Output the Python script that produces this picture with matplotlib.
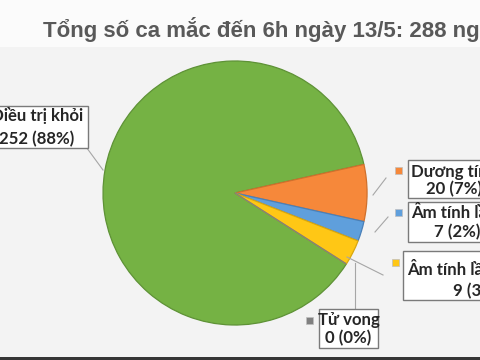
import matplotlib
matplotlib.use("Agg")
import matplotlib.pyplot as plt
from matplotlib.patches import Rectangle

# ---- data ----
labels = ["Điều trị khỏi", "Dương tính", "Âm tính lần 1", "Âm tính lần 2", "Tử vong"]
values = [252, 20, 7, 9, 0]
percents = ["88%", "7%", "2%", "3%", "0%"]
colors = ["#75b244", "#f6883a", "#5f9fdc", "#ffc715", "#808080"]
edges = ["#5e9236", "#d0702c", "#4a80b8", "#d9a70e", "#808080"]
explode = [0, 0.055, 0.055, 0.055, 0]
title = "Tổng số ca mắc đến 6h ngày 13/5: 288 người"

W, H = 480, 360
fig = plt.figure(figsize=(4.8, 3.6), dpi=100)
fig.patch.set_facecolor("#f3f3f3")
ax = fig.add_axes([0, 0, 1, 1])
ax.set_facecolor("#f3f3f3")

def Y(y):
    return H - y

# background bands
ax.add_patch(Rectangle((0, Y(47)), W, 47, facecolor="#fbfbfb", edgecolor="none", zorder=0))
ax.add_patch(Rectangle((0, 0), W, 3.5, facecolor="#363636", edgecolor="none", zorder=5))

wedges, _ = ax.pie(values, colors=colors, explode=explode, startangle=-32.5,
                   counterclock=False, center=(235, Y(193)), radius=132,
                   wedgeprops=dict(linewidth=0.9), frame=True)
for w, ec in zip(wedges, edges):
    w.set_edgecolor(ec)

ax.set_xlim(0, W)
ax.set_ylim(0, H)
ax.set_aspect("auto")
ax.axis("off")

ax.text(43, Y(29), title, fontsize=16.0, fontweight="bold", color="#595959",
        family="Liberation Sans", ha="left", va="center")

lf = dict(fontsize=12.1, fontweight="bold", color="#262626", family="Lato", va="center")
lc = "#a6a6a6"

# leader lines (top-based pixel coords)
leaders = [
    [(70, 125), (103, 170)],
    [(386, 178), (373, 195)],
    [(388, 217), (375, 232)],
    [(383, 275), (347, 257)],
    [(355, 309), (355, 263)],
]
for pts in leaders:
    ax.plot([p[0] for p in pts], [Y(p[1]) for p in pts], color=lc, lw=0.8, zorder=6)

def box(x0, y0, x1, y1):
    ax.add_patch(Rectangle((x0, Y(y1)), x1 - x0, y1 - y0, facecolor="white",
                           edgecolor="#7a7a7a", lw=1.0, zorder=7))

def marker(x0, y0, s, c):
    ax.add_patch(Rectangle((x0, Y(y0 + s)), s, s, facecolor=c, edgecolor="#bfbfbf",
                           lw=0.5, zorder=8))

def num(i):
    return f"{values[i]} ({percents[i]})"

# Điều trị khỏi
box(-5, 106, 88, 148)
ax.text(37, Y(116), labels[0], ha="center", zorder=9, **lf)
ax.text(37, Y(139), num(0), ha="center", zorder=9, **lf)

# Dương tính
box(408, 160, 490, 198)
marker(395, 167, 6.5, colors[1])
ax.text(411, Y(172), labels[1], ha="left", zorder=9, **lf)
ax.text(426, Y(189), num(1), ha="left", zorder=9, **lf)

# Âm tính lần 1
box(408, 202, 490, 242)
marker(395, 209, 6.5, colors[2])
ax.text(411, Y(213), labels[2], ha="left", zorder=9, **lf)
ax.text(434, Y(232), num(2), ha="left", zorder=9, **lf)

# Âm tính lần 2
box(403, 251, 490, 300)
marker(392, 259, 6.5, colors[3])
ax.text(407, Y(270), labels[3], ha="left", zorder=9, **lf)
ax.text(453, Y(291), num(3), ha="left", zorder=9, **lf)

# Tử vong
box(319, 309, 378, 348)
marker(306, 317, 6.5, colors[4])
ax.text(348.5, Y(320), labels[4], ha="center", zorder=9, **lf)
ax.text(348.5, Y(338), num(4), ha="center", zorder=9, **lf)

fig.savefig("out.png", dpi=100, facecolor=fig.get_facecolor())
